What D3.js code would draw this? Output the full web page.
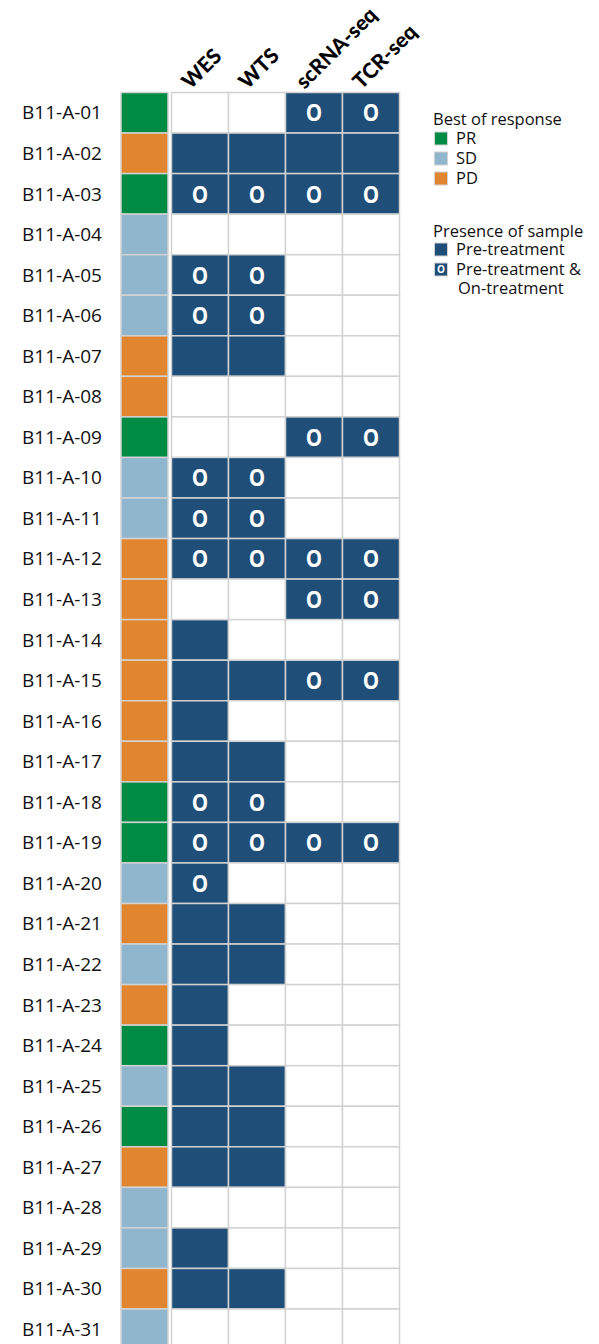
<!DOCTYPE html>
<html>
<head>
<meta charset="utf-8">
<script src="https://cdn.jsdelivr.net/npm/d3@7"></script>
<style>
    body { margin: 0; background: #fff; }
    svg { display: block; font-family: "Open Sans", sans-serif; }
</style>
</head>
<body>
<div id="chart"></div>
<script>
// patients, top to bottom
const patients = [
    'B11-A-01', 'B11-A-02', 'B11-A-03', 'B11-A-04', 'B11-A-05', 'B11-A-06', 'B11-A-07', 'B11-A-08',
    'B11-A-09', 'B11-A-10', 'B11-A-11', 'B11-A-12', 'B11-A-13', 'B11-A-14', 'B11-A-15', 'B11-A-16',
    'B11-A-17', 'B11-A-18', 'B11-A-19', 'B11-A-20', 'B11-A-21', 'B11-A-22', 'B11-A-23', 'B11-A-24',
    'B11-A-25', 'B11-A-26', 'B11-A-27', 'B11-A-28', 'B11-A-29', 'B11-A-30', 'B11-A-31'
];

// best of response per patient
const response = [
    'PR', 'PD', 'PR', 'SD', 'SD', 'SD', 'PD', 'PD',
    'PR', 'SD', 'SD', 'PD', 'PD', 'PD', 'PD', 'PD',
    'PD', 'PR', 'PR', 'SD', 'PD', 'SD', 'PD', 'PR',
    'SD', 'PR', 'PD', 'SD', 'SD', 'PD', 'SD'
];

const assays = ['WES', 'WTS', 'scRNA-seq', 'TCR-seq'];

// 0 = none, 1 = pre-treatment, 2 = pre-treatment & on-treatment
const wes   = [0, 1, 2, 0, 2, 2, 1, 0, 0, 2, 2, 2, 0, 1, 1, 1, 1, 2, 2, 2, 1, 1, 1, 1, 1, 1, 1, 0, 1, 1, 0];
const wts   = [0, 1, 2, 0, 2, 2, 1, 0, 0, 2, 2, 2, 0, 0, 1, 0, 1, 2, 2, 0, 1, 1, 0, 0, 1, 1, 1, 0, 0, 1, 0];
const scrna = [2, 1, 2, 0, 0, 0, 0, 0, 2, 0, 0, 2, 2, 0, 2, 0, 0, 0, 2, 0, 0, 0, 0, 0, 0, 0, 0, 0, 0, 0, 0];
const tcr   = [2, 1, 2, 0, 0, 0, 0, 0, 2, 0, 0, 2, 2, 0, 2, 0, 0, 0, 2, 0, 0, 0, 0, 0, 0, 0, 0, 0, 0, 0, 0];

const responseLevels = ['PR', 'SD', 'PD'];
const responseColors = ['#008B45', '#8FB6CD', '#E1862F'];
const sampleLabels = ['Pre-treatment', 'Pre-treatment &'];

const width = 599, height = 1344;
const navy = '#1F4E79';
const gridColor = '#d2d2d2';

const svg = d3.select('#chart').append('svg')
    .attr('width', width)
    .attr('height', height);

const y = d3.scaleBand()
    .domain(patients)
    .range([92.5, 92.5 + 40.55 * patients.length]);

const x = d3.scaleBand()
    .domain(assays)
    .range([171.5, 399.5]);

const respColor = d3.scaleOrdinal()
    .domain(responseLevels)
    .range(responseColors);

// build the cell table from the assay arrays
const assayValues = [wes, wts, scrna, tcr];
const cells = [];
patients.forEach((p, i) => {
    assays.forEach((a, j) => {
        cells.push({ patient: p, assay: a, value: assayValues[j][i] });
    });
});

// row labels
svg.selectAll('.row-label')
    .data(patients)
    .enter()
    .append('text')
    .attr('class', 'row-label')
    .attr('x', 102)
    .attr('y', d => y(d) + y.bandwidth() / 2)
    .attr('dy', '0.35em')
    .attr('text-anchor', 'end')
    .attr('font-size', '19px')
    .attr('fill', '#111')
    .text(d => d);

// response column
svg.selectAll('.resp')
    .data(patients)
    .enter()
    .append('rect')
    .attr('class', 'resp')
    .attr('x', 121)
    .attr('y', d => y(d))
    .attr('width', 47)
    .attr('height', y.bandwidth())
    .attr('fill', (d, i) => respColor(response[i]))
    .attr('stroke', gridColor)
    .attr('stroke-width', 1.5);

// sample grid
svg.selectAll('.cell')
    .data(cells)
    .enter()
    .append('rect')
    .attr('class', 'cell')
    .attr('x', d => x(d.assay))
    .attr('y', d => y(d.patient))
    .attr('width', x.bandwidth())
    .attr('height', y.bandwidth())
    .attr('fill', d => d.value > 0 ? navy : '#fff')
    .attr('stroke', gridColor)
    .attr('stroke-width', 1.5);

// "O" marks, narrowed a bit to look like the original glyph
svg.selectAll('.mark')
    .data(cells.filter(d => d.value === 2))
    .enter()
    .append('text')
    .attr('class', 'mark')
    .attr('transform', d => `translate(${x(d.assay) + x.bandwidth() / 2},${y(d.patient) + y.bandwidth() / 2}) scale(0.86,1)`)
    .attr('dy', '0.36em')
    .attr('text-anchor', 'middle')
    .attr('font-size', '24px')
    .attr('font-weight', 'bold')
    .attr('fill', '#fff')
    .text('O');

// column headers
svg.selectAll('.col-label')
    .data(assays)
    .enter()
    .append('text')
    .attr('class', 'col-label')
    .attr('transform', d => `translate(${x(d) + 19},${90}) rotate(-45)`)
    .attr('font-family', 'Lato, sans-serif')
    .attr('font-size', '21px')
    .attr('font-weight', 900)
    .attr('fill', '#000')
    .text(d => d);

// legend
const legend = svg.append('g').attr('transform', 'translate(433,0)');

legend.append('text')
    .attr('x', 0)
    .attr('y', 125)
    .attr('font-size', '16.5px')
    .attr('fill', '#111')
    .text('Best of response');

responseLevels.forEach((r, i) => {
    legend.append('rect')
        .attr('x', 1.5)
        .attr('y', 132 + i * 20)
        .attr('width', 13)
        .attr('height', 13)
        .attr('fill', respColor(r))
        .attr('stroke', gridColor)
        .attr('stroke-width', 1);
    legend.append('text')
        .attr('x', 23)
        .attr('y', 138.5 + i * 20)
        .attr('dy', '0.35em')
        .attr('font-size', '16.5px')
        .attr('fill', '#111')
        .text(r);
});

legend.append('text')
    .attr('x', 0)
    .attr('y', 237)
    .attr('font-size', '16.5px')
    .attr('fill', '#111')
    .text('Presence of sample');

sampleLabels.forEach((s, i) => {
    legend.append('rect')
        .attr('x', 1.5)
        .attr('y', 243 + i * 20)
        .attr('width', 13)
        .attr('height', 13)
        .attr('fill', navy)
        .attr('stroke', gridColor)
        .attr('stroke-width', 1);
    legend.append('text')
        .attr('x', 23)
        .attr('y', 249.5 + i * 20)
        .attr('dy', '0.35em')
        .attr('font-size', '16.5px')
        .attr('fill', '#111')
        .text(s);
});

legend.append('text')
    .attr('x', 8)
    .attr('y', 269.5)
    .attr('dy', '0.36em')
    .attr('text-anchor', 'middle')
    .attr('font-size', '10px')
    .attr('font-weight', 'bold')
    .attr('fill', '#fff')
    .text('O');

legend.append('text')
    .attr('x', 25)
    .attr('y', 288.5)
    .attr('dy', '0.35em')
    .attr('font-size', '16.5px')
    .attr('fill', '#111')
    .text('On-treatment');
</script>
</body>
</html>
